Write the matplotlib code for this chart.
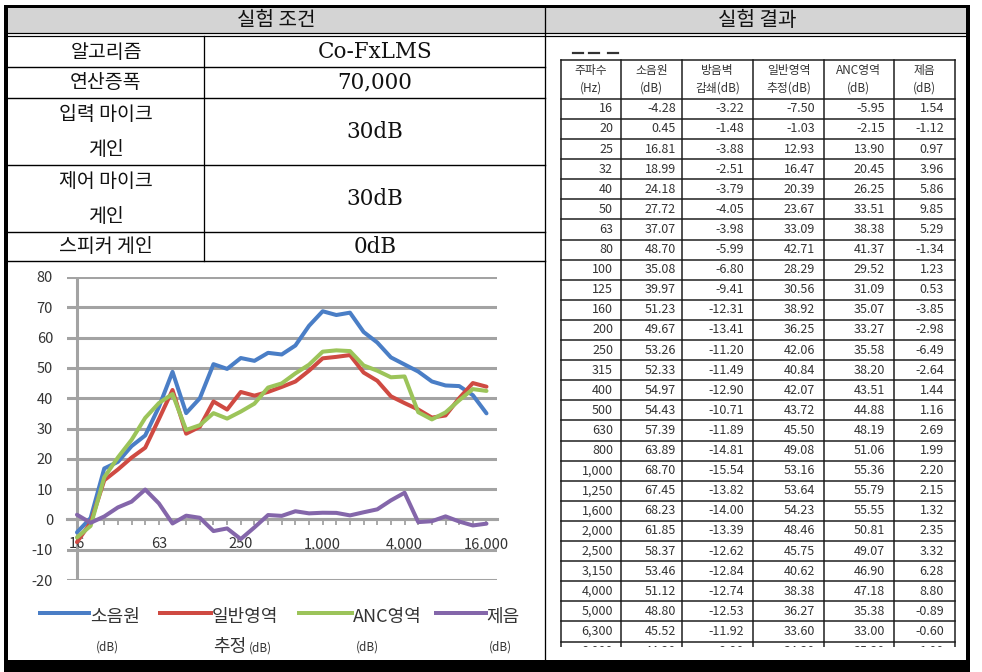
import matplotlib
matplotlib.use("Agg")
import matplotlib.pyplot as plt
from matplotlib.patches import Rectangle
from matplotlib.lines import Line2D

plt.rcParams['font.family'] = ['Noto Sans CJK KR', 'DejaVu Sans']

# ---------------- data ----------------
freqs = [16, 20, 25, 32, 40, 50, 63, 80, 100, 125, 160, 200, 250, 315, 400, 500,
         630, 800, 1000, 1250, 1600, 2000, 2500, 3150, 4000, 5000, 6300, 8000,
         10000, 12500, 16000]
source = [-4.28, 0.45, 16.81, 18.99, 24.18, 27.72, 37.07, 48.70, 35.08, 39.97,
          51.23, 49.67, 53.26, 52.33, 54.97, 54.43, 57.39, 63.89, 68.70, 67.45,
          68.23, 61.85, 58.37, 53.46, 51.12, 48.80, 45.52, 44.20, 44.00, 41.00, 35.00]
barrier = [-3.22, -1.48, -3.88, -2.51, -3.79, -4.05, -3.98, -5.99, -6.80, -9.41,
           -12.31, -13.41, -11.20, -11.49, -12.90, -10.71, -11.89, -14.81, -15.54,
           -13.82, -14.00, -13.39, -12.62, -12.84, -12.74, -12.53, -11.92, -9.90]
general = [-7.50, -1.03, 12.93, 16.47, 20.39, 23.67, 33.09, 42.71, 28.29, 30.56,
           38.92, 36.25, 42.06, 40.84, 42.07, 43.72, 45.50, 49.08, 53.16, 53.64,
           54.23, 48.46, 45.75, 40.62, 38.38, 36.27, 33.60, 34.30, 40.00, 45.00, 43.80]
anc = [-5.95, -2.15, 13.90, 20.45, 26.25, 33.51, 38.38, 41.37, 29.52, 31.09,
       35.07, 33.27, 35.58, 38.20, 43.51, 44.88, 48.19, 51.06, 55.36, 55.79,
       55.55, 50.81, 49.07, 46.90, 47.18, 35.38, 33.00, 35.30, 39.30, 43.00, 42.40]
reduction = [1.54, -1.12, 0.97, 3.96, 5.86, 9.85, 5.29, -1.34, 1.23, 0.53, -3.85,
             -2.98, -6.49, -2.64, 1.44, 1.16, 2.69, 1.99, 2.20, 2.15, 1.32, 2.35,
             3.32, 6.28, 8.80, -0.89, -0.60, 1.00, -0.70, -2.00, -1.40]

series_top = ['소음원', '일반영역', 'ANC영역', '제음']
series_bot = ['(dB)', '추정(dB)', '(dB)', '(dB)']
series_colors = ['#4a7ec6', '#cf4a42', '#9cc45a', '#8466aa']

cond_title = '실험 조건'
result_title = '실험 결과'
cond_labels = [['알고리즘'], ['연산증폭'], ['입력 마이크', '게인'], ['제어 마이크', '게인'], ['스피커 게인']]
cond_values = ['Co-FxLMS', '70,000', '30dB', '30dB', '0dB']

table_head_top = ['주파수', '소음원', '방음벽', '일반영역', 'ANC영역', '제음']
table_head_bot = ['(Hz)', '(dB)', '감쇄(dB)', '추정(dB)', '(dB)', '(dB)']

y_ticks = list(range(-20, 81, 10))
x_label_every = 6

# ---------------- figure ----------------
W, H = 982, 672
fig = plt.figure(figsize=(W / 100, H / 100), dpi=100)
bg = fig.add_axes([0, 0, 1, 1])
bg.set_xlim(0, W)
bg.set_ylim(H, 0)
bg.axis('off')

PX = 0.72  # points per pixel


def hline(y, x0, x1, lw=1.3, color='black', z=3):
    bg.add_line(Line2D([x0, x1], [y, y], lw=lw * PX, color=color, zorder=z))


def vline(x, y0, y1, lw=1.3, color='black', z=3):
    bg.add_line(Line2D([x, x], [y0, y1], lw=lw * PX, color=color, zorder=z))


# header gray bands
bg.add_patch(Rectangle((7, 7), 961, 26.5, facecolor='#d4d4d4', edgecolor='none', zorder=1))
hline(33.3, 7, 968, 1.2)
hline(36.3, 7, 968, 1.2)
vline(545.5, 7, 661, 1.3)

bg.text(276, 20.5, cond_title, ha='center', va='center', fontsize=14.5, color='#111')
bg.text(757, 20.5, result_title, ha='center', va='center', fontsize=14.5, color='#111')

# left condition table
row_edges = [36.3, 66.7, 98.0, 165.0, 231.5, 261.0]
for y in row_edges[1:]:
    hline(y, 7, 545.5, 1.4)
vline(204.5, 36.3, 261.0, 1.3)
for i, (labs, val) in enumerate(zip(cond_labels, cond_values)):
    y0, y1 = row_edges[i], row_edges[i + 1]
    yc = (y0 + y1) / 2
    if len(labs) == 1:
        bg.text(106, yc + 0.5, labs[0], ha='center', va='center', fontsize=14,
                color='#111', fontweight='light')
    else:
        bg.text(106, yc - 17, labs[0], ha='center', va='center', fontsize=14,
                color='#111', fontweight='light')
        bg.text(106, yc + 18, labs[1], ha='center', va='center', fontsize=14,
                color='#111', fontweight='light')
    bg.text(375, yc + 0.5, val, ha='center', va='center', fontsize=15.5,
            family=['DejaVu Serif', 'Noto Sans CJK KR'], color='#111')

# right result table
col_x = [561, 621.3, 682.3, 753, 824, 893.7, 954.7]
t_top, head_bot, row_h = 60, 98.8, 20.1
n_rows = len(barrier)
t_bot = head_bot + n_rows * row_h
for x in col_x:
    vline(x, t_top, t_bot, 1.5, '#1a1a1a')
hline(t_top, col_x[0], col_x[-1], 1.5, '#1a1a1a')
for k in range(n_rows + 1):
    hline(head_bot + k * row_h, col_x[0], col_x[-1], 1.5, '#1a1a1a')
for j in range(6):
    xc = (col_x[j] + col_x[j + 1]) / 2
    bg.text(xc, 70.5, table_head_top[j], ha='center', va='center', fontsize=8.5, color='#333')
    bg.text(xc, 88, table_head_bot[j], ha='center', va='center', fontsize=8.5, color='#333')
num_right = [613, 676, 744, 815, 885, 944]
for k in range(n_rows):
    yc = head_bot + (k + 0.5) * row_h
    vals = [f"{freqs[k]:,}", f"{source[k]:.2f}", f"{barrier[k]:.2f}",
            f"{general[k]:.2f}", f"{anc[k]:.2f}", f"{reduction[k]:.2f}"]
    for j, v in enumerate(vals):
        bg.text(num_right[j], yc, v, ha='right', va='center', fontsize=9, color='#333')
# cut-off of the pasted table
bg.add_patch(Rectangle((547, 646.5), 419, 14, facecolor='white', edgecolor='none', zorder=6))
# small cut caption marks
for x0, x1 in [(573, 583), (589, 599), (608, 618)]:
    hline(53, x0, x1, 2.2, '#333', 3)

# outer borders
bg.add_patch(Rectangle((4.5, 4.5), 3.5, 657, facecolor='black', edgecolor='none', zorder=8))
bg.add_patch(Rectangle((4.5, 4.5), 966, 3, facecolor='black', edgecolor='none', zorder=8))
bg.add_patch(Rectangle((966.5, 4.5), 3.5, 657, facecolor='black', edgecolor='none', zorder=8))
bg.add_patch(Rectangle((4.5, 660), 966, 12, facecolor='black', edgecolor='none', zorder=8))

# ---------------- chart ----------------
ax_l, ax_r, ax_t, ax_b = 67, 497, 277, 580
ax = fig.add_axes([ax_l / W, 1 - ax_b / H, (ax_r - ax_l) / W, (ax_b - ax_t) / H])
ax.patch.set_alpha(0)
n = len(freqs)
ax.set_xlim(-0.73, 30.77)
ax.set_ylim(-20, 80)
grid_c = '#a3a3a3'
for s in ['top', 'right', 'left']:
    ax.spines[s].set_visible(False)
ax.spines['bottom'].set_position(('data', 0))
ax.spines['bottom'].set_color(grid_c)
ax.spines['bottom'].set_linewidth(2.2)
ax.set_yticks(y_ticks)
ax.set_yticklabels([str(v) for v in y_ticks])
ax.yaxis.grid(True, color=grid_c, lw=2.2)
ax.set_axisbelow(True)
ax.axvline(0, color=grid_c, lw=2.2, zorder=0.5)
ax.tick_params(axis='y', length=0, pad=10, labelsize=10.5, labelcolor='#333')
idx = list(range(n))
ax.set_xticks(idx)
ax.set_xticklabels([f"{f:,}" if i % x_label_every == 0 else '' for i, f in enumerate(freqs)])
ax.tick_params(axis='x', direction='out', length=4, width=1.3, color=grid_c,
               pad=9, labelsize=10.5, labelcolor='#333')
for lab in ax.get_xticklabels():
    lab.set_zorder(5)

for vals, c in zip([source, general, anc, reduction], series_colors):
    ax.plot(idx, vals, color=c, lw=2.9, solid_joinstyle='round', solid_capstyle='round', zorder=3)

# legend (drawn manually to mimic layout)
leg_lines = [(40, 89), (160, 211), (299, 352), (436, 486)]
leg_text_x = [90, 212, 353, 486]
bot_offset = [6, 0, 3, 3]
for (x0, x1), tx, top, bot, c, off in zip(leg_lines, leg_text_x, series_top, series_bot,
                                          series_colors, bot_offset):
    bg.add_line(Line2D([x0, x1], [613, 613], lw=4 * PX, color=c, zorder=4))
    bg.text(tx, 617, top, ha='left', va='center', fontsize=13, color='#333', zorder=4)
    if bot.startswith('('):
        bg.text(tx + off, 647, bot, ha='left', va='center', fontsize=8.5, color='#333', zorder=4)
    else:
        head = bot[:bot.index('(')]
        bg.text(tx + 1, 647, head, ha='left', va='center', fontsize=13, color='#333', zorder=4)
        bg.text(tx + 37, 648, bot[bot.index('('):], ha='left', va='center', fontsize=8.5,
                color='#333', zorder=4)

fig.savefig('out.png', dpi=100)
